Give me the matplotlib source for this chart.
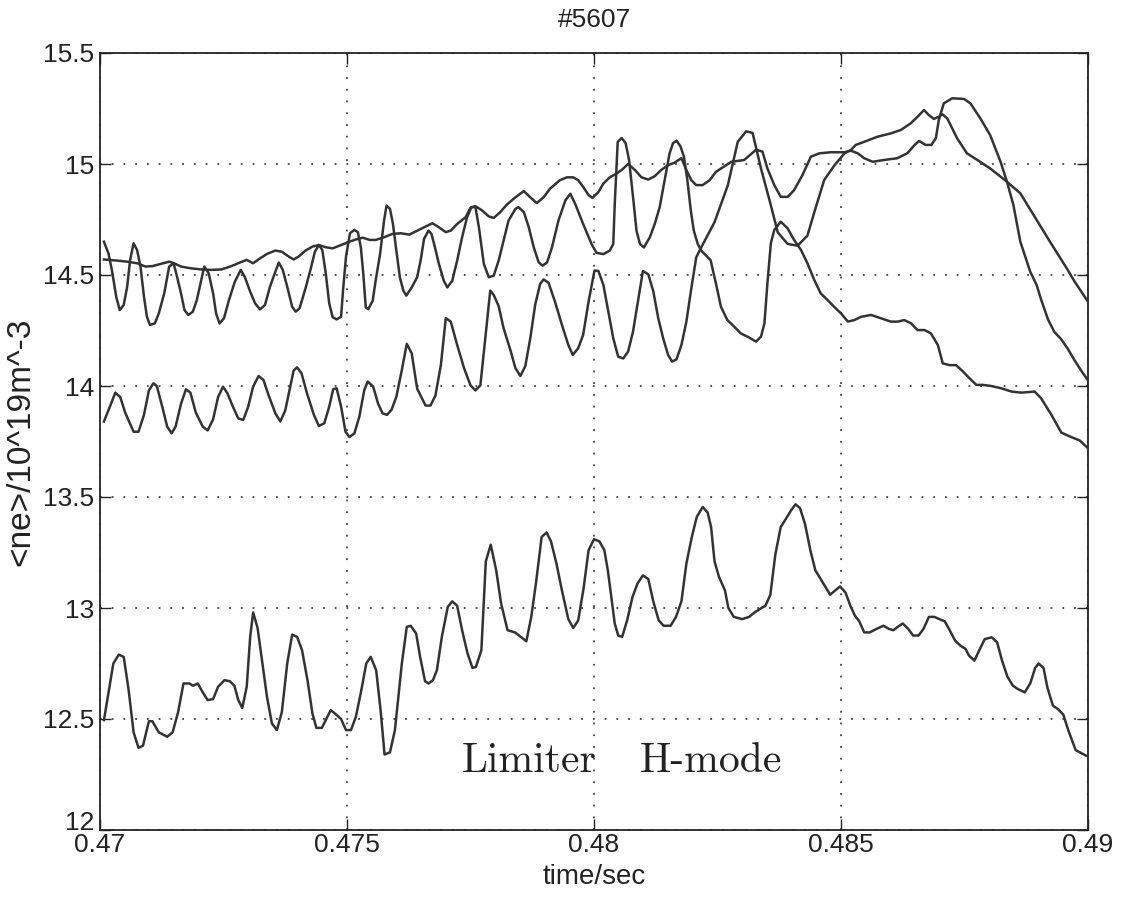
import matplotlib
matplotlib.use("Agg")
import matplotlib.pyplot as plt
from matplotlib import transforms

# ---------------------------------------------------------------
# Line-averaged density traces, shot #5607 (time in s, <ne> in 1e19 m^-3)
# ---------------------------------------------------------------

# smooth upper trace
t_top = [0.47008, 0.47034, 0.47055, 0.47075, 0.47092, 0.47106, 0.47123, 0.47140, 0.47150, 0.47164,
         0.47184, 0.47205, 0.47225, 0.47246, 0.47266, 0.47283, 0.47297, 0.47310, 0.47324, 0.47338,
         0.47355, 0.47368, 0.47382, 0.47392, 0.47402, 0.47416, 0.47430, 0.47443, 0.47457, 0.47471,
         0.47488, 0.47505, 0.47518, 0.47532, 0.47546, 0.47558, 0.47575, 0.47592, 0.47609, 0.47626,
         0.47640, 0.47656, 0.47673, 0.47686, 0.47700, 0.47710, 0.47723, 0.47740, 0.47750, 0.47760,
         0.47774, 0.47787, 0.47797, 0.47810, 0.47824, 0.47841, 0.47858, 0.47871, 0.47884, 0.47898,
         0.47911, 0.47931, 0.47945, 0.47958, 0.47968, 0.47978, 0.47989, 0.47997, 0.48009, 0.48019,
         0.48032, 0.48046, 0.48056, 0.48069, 0.48083, 0.48096, 0.48110, 0.48123, 0.48136, 0.48150,
         0.48163, 0.48177, 0.48187, 0.48197, 0.48207, 0.48220, 0.48234, 0.48247, 0.48278, 0.48304,
         0.48328, 0.48341, 0.48351, 0.48365, 0.48378, 0.48392, 0.48405, 0.48422, 0.48439, 0.48456,
         0.48480, 0.48507, 0.48520, 0.48534, 0.48547, 0.48564, 0.48587, 0.48614, 0.48634, 0.48648,
         0.48658, 0.48671, 0.48683, 0.48692, 0.48698, 0.48708, 0.48725, 0.48749, 0.48762, 0.48782,
         0.48802, 0.48823, 0.48836, 0.48849, 0.48863, 0.48883, 0.48896, 0.48905, 0.48919, 0.48932,
         0.48946, 0.48959, 0.48973, 0.48986, 0.49000]
ne_top = [14.570, 14.565, 14.560, 14.553, 14.538, 14.540, 14.550, 14.560, 14.553, 14.538,
          14.530, 14.525, 14.523, 14.525, 14.540, 14.556, 14.568, 14.553, 14.575, 14.595,
          14.610, 14.605, 14.583, 14.570, 14.583, 14.610, 14.628, 14.635, 14.625, 14.620,
          14.635, 14.650, 14.660, 14.668, 14.658, 14.658, 14.670, 14.685, 14.688, 14.682,
          14.697, 14.715, 14.733, 14.715, 14.693, 14.700, 14.730, 14.760, 14.803, 14.810,
          14.790, 14.764, 14.757, 14.783, 14.818, 14.850, 14.878, 14.850, 14.824, 14.850,
          14.889, 14.927, 14.940, 14.940, 14.927, 14.897, 14.860, 14.847, 14.874, 14.912,
          14.940, 14.958, 14.973, 15.000, 14.973, 14.940, 14.930, 14.945, 14.973, 14.995,
          15.006, 15.026, 14.973, 14.927, 14.905, 14.905, 14.927, 14.965, 15.010, 15.018,
          15.064, 15.056, 14.980, 14.905, 14.852, 14.852, 14.882, 14.950, 15.033, 15.048,
          15.053, 15.053, 15.060, 15.048, 15.026, 15.010, 15.018, 15.026, 15.048, 15.083,
          15.104, 15.086, 15.086, 15.116, 15.198, 15.273, 15.296, 15.293, 15.273, 15.206,
          15.130, 15.010, 14.920, 14.815, 14.650, 14.515, 14.455, 14.390, 14.300, 14.243,
          14.210, 14.168, 14.115, 14.070, 14.025]

# upper oscillating trace
t_osc1 = [0.47008, 0.47017, 0.47024, 0.47033, 0.47040, 0.47048, 0.47055, 0.47061, 0.47068, 0.47075,
          0.47082, 0.47089, 0.47095, 0.47101, 0.47111, 0.47119, 0.47130, 0.47140, 0.47149, 0.47156,
          0.47164, 0.47171, 0.47179, 0.47188, 0.47196, 0.47205, 0.47211, 0.47220, 0.47229, 0.47235,
          0.47242, 0.47251, 0.47261, 0.47273, 0.47285, 0.47293, 0.47304, 0.47314, 0.47324, 0.47334,
          0.47344, 0.47355, 0.47362, 0.47370, 0.47379, 0.47389, 0.47396, 0.47404, 0.47416, 0.47426,
          0.47435, 0.47443, 0.47450, 0.47457, 0.47464, 0.47471, 0.47479, 0.47488, 0.47492, 0.47498,
          0.47506, 0.47515, 0.47522, 0.47528, 0.47533, 0.47538, 0.47543, 0.47552, 0.47558, 0.47567,
          0.47575, 0.47580, 0.47587, 0.47593, 0.47599, 0.47607, 0.47614, 0.47620, 0.47631, 0.47642,
          0.47649, 0.47656, 0.47665, 0.47671, 0.47678, 0.47686, 0.47696, 0.47703, 0.47713, 0.47723,
          0.47733, 0.47743, 0.47752, 0.47760, 0.47767, 0.47777, 0.47787, 0.47797, 0.47807, 0.47817,
          0.47827, 0.47841, 0.47847, 0.47858, 0.47868, 0.47878, 0.47888, 0.47896, 0.47905, 0.47915,
          0.47928, 0.47942, 0.47952, 0.47962, 0.47978, 0.47995, 0.48005, 0.48019, 0.48032, 0.48039,
          0.48042, 0.48048, 0.48056, 0.48064, 0.48071, 0.48079, 0.48086, 0.48093, 0.48101, 0.48113,
          0.48123, 0.48133, 0.48143, 0.48153, 0.48160, 0.48167, 0.48175, 0.48182, 0.48189, 0.48196,
          0.48202, 0.48210, 0.48217, 0.48236, 0.48247, 0.48257, 0.48270, 0.48284, 0.48297, 0.48311,
          0.48328, 0.48338, 0.48345, 0.48351, 0.48358, 0.48365, 0.48378, 0.48392, 0.48405, 0.48419,
          0.48432, 0.48446, 0.48459, 0.48473, 0.48486, 0.48500, 0.48514, 0.48527, 0.48541, 0.48561,
          0.48581, 0.48601, 0.48615, 0.48628, 0.48642, 0.48655, 0.48669, 0.48682, 0.48696, 0.48706,
          0.48720, 0.48733, 0.48747, 0.48760, 0.48774, 0.48787, 0.48804, 0.48824, 0.48845, 0.48865,
          0.48892, 0.48905, 0.48926, 0.48946, 0.48966, 0.48983, 0.49000]
ne_osc1 = [14.650, 14.598, 14.523, 14.400, 14.342, 14.365, 14.447, 14.568, 14.643, 14.613,
           14.538, 14.402, 14.312, 14.275, 14.282, 14.327, 14.417, 14.538, 14.553, 14.492,
           14.417, 14.342, 14.320, 14.335, 14.387, 14.477, 14.538, 14.508, 14.417, 14.327,
           14.282, 14.305, 14.387, 14.470, 14.523, 14.492, 14.425, 14.372, 14.345, 14.365,
           14.447, 14.515, 14.556, 14.523, 14.447, 14.357, 14.335, 14.350, 14.440, 14.523,
           14.605, 14.635, 14.613, 14.508, 14.372, 14.310, 14.300, 14.312, 14.432, 14.583,
           14.688, 14.703, 14.693, 14.625, 14.505, 14.354, 14.346, 14.384, 14.475, 14.595,
           14.745, 14.813, 14.798, 14.730, 14.625, 14.490, 14.430, 14.407, 14.444, 14.490,
           14.565, 14.663, 14.700, 14.685, 14.625, 14.550, 14.474, 14.444, 14.474, 14.565,
           14.670, 14.760, 14.806, 14.806, 14.715, 14.550, 14.490, 14.497, 14.565, 14.655,
           14.745, 14.798, 14.806, 14.783, 14.715, 14.625, 14.557, 14.542, 14.557, 14.625,
           14.745, 14.836, 14.866, 14.820, 14.730, 14.640, 14.600, 14.594, 14.610, 14.640,
           14.820, 15.100, 15.117, 15.094, 15.018, 14.852, 14.700, 14.640, 14.624, 14.670,
           14.730, 14.806, 14.927, 15.048, 15.094, 15.105, 15.080, 15.033, 14.927, 14.790,
           14.700, 14.640, 14.610, 14.567, 14.460, 14.357, 14.297, 14.267, 14.237, 14.222,
           14.200, 14.222, 14.282, 14.462, 14.643, 14.703, 14.740, 14.710, 14.658, 14.613,
           14.553, 14.477, 14.417, 14.387, 14.357, 14.327, 14.290, 14.297, 14.312, 14.320,
           14.305, 14.290, 14.290, 14.297, 14.282, 14.252, 14.252, 14.237, 14.185, 14.102,
           14.094, 14.094, 14.065, 14.035, 14.005, 14.005, 14.000, 13.990, 13.975, 13.970,
           13.975, 13.945, 13.870, 13.790, 13.770, 13.755, 13.720]

# middle oscillating trace
t_osc2 = [0.47008, 0.47020, 0.47031, 0.47041, 0.47051, 0.47061, 0.47068, 0.47078, 0.47089, 0.47099,
          0.47108, 0.47115, 0.47126, 0.47136, 0.47145, 0.47153, 0.47164, 0.47174, 0.47183, 0.47194,
          0.47208, 0.47218, 0.47229, 0.47239, 0.47249, 0.47258, 0.47269, 0.47280, 0.47290, 0.47300,
          0.47310, 0.47321, 0.47331, 0.47341, 0.47355, 0.47365, 0.47375, 0.47385, 0.47392, 0.47399,
          0.47408, 0.47419, 0.47433, 0.47443, 0.47454, 0.47464, 0.47472, 0.47479, 0.47488, 0.47497,
          0.47505, 0.47515, 0.47525, 0.47535, 0.47542, 0.47553, 0.47563, 0.47572, 0.47581, 0.47590,
          0.47600, 0.47611, 0.47621, 0.47631, 0.47642, 0.47659, 0.47669, 0.47679, 0.47690, 0.47700,
          0.47710, 0.47723, 0.47737, 0.47750, 0.47760, 0.47770, 0.47780, 0.47790, 0.47797, 0.47807,
          0.47817, 0.47831, 0.47841, 0.47851, 0.47861, 0.47871, 0.47881, 0.47891, 0.47898, 0.47908,
          0.47921, 0.47935, 0.47948, 0.47957, 0.47968, 0.47978, 0.47989, 0.48001, 0.48009, 0.48019,
          0.48029, 0.48039, 0.48049, 0.48059, 0.48069, 0.48079, 0.48089, 0.48099, 0.48110, 0.48120,
          0.48130, 0.48140, 0.48150, 0.48158, 0.48167, 0.48177, 0.48187, 0.48197, 0.48207, 0.48217,
          0.48244, 0.48271, 0.48291, 0.48308, 0.48321, 0.48338, 0.48358, 0.48372, 0.48392, 0.48412,
          0.48432, 0.48446, 0.48466, 0.48487, 0.48507, 0.48520, 0.48530, 0.48547, 0.48574, 0.48601,
          0.48621, 0.48641, 0.48655, 0.48668, 0.48678, 0.48688, 0.48698, 0.48705, 0.48715, 0.48735,
          0.48755, 0.48776, 0.48802, 0.48823, 0.48836, 0.48863, 0.48890, 0.48923, 0.48957, 0.48973,
          0.49000]
ne_osc2 = [13.840, 13.907, 13.970, 13.950, 13.880, 13.830, 13.794, 13.794, 13.870, 13.980,
           14.012, 14.000, 13.907, 13.817, 13.787, 13.817, 13.920, 13.985, 13.970, 13.880,
           13.817, 13.800, 13.850, 13.950, 13.997, 13.967, 13.907, 13.854, 13.847, 13.907,
           13.997, 14.045, 14.027, 13.960, 13.877, 13.840, 13.890, 13.997, 14.070, 14.084,
           14.057, 13.967, 13.870, 13.820, 13.832, 13.907, 13.985, 13.990, 13.907, 13.794,
           13.770, 13.787, 13.862, 13.982, 14.020, 13.997, 13.920, 13.877, 13.870, 13.892,
           13.952, 14.072, 14.190, 14.147, 13.988, 13.912, 13.912, 13.957, 14.094, 14.306,
           14.290, 14.185, 14.080, 14.003, 13.980, 14.003, 14.215, 14.430, 14.410, 14.360,
           14.260, 14.160, 14.080, 14.045, 14.090, 14.215, 14.367, 14.460, 14.480, 14.465,
           14.380, 14.276, 14.185, 14.140, 14.170, 14.230, 14.380, 14.520, 14.518, 14.455,
           14.336, 14.215, 14.132, 14.124, 14.155, 14.245, 14.380, 14.518, 14.503, 14.427,
           14.306, 14.215, 14.140, 14.110, 14.120, 14.185, 14.290, 14.440, 14.580, 14.624,
           14.738, 14.905, 15.100, 15.147, 15.140, 14.980, 14.814, 14.692, 14.640, 14.632,
           14.677, 14.783, 14.928, 14.995, 15.048, 15.063, 15.086, 15.100, 15.123, 15.138,
           15.153, 15.183, 15.213, 15.243, 15.220, 15.203, 15.213, 15.224, 15.206, 15.116,
           15.048, 15.018, 14.980, 14.943, 14.920, 14.868, 14.770, 14.650, 14.530, 14.470,
           14.380]

# lower trace
t_low = [0.47008, 0.47027, 0.47038, 0.47048, 0.47058, 0.47068, 0.47078, 0.47087, 0.47099, 0.47106,
         0.47119, 0.47136, 0.47147, 0.47158, 0.47169, 0.47181, 0.47188, 0.47198, 0.47208, 0.47218,
         0.47229, 0.47239, 0.47252, 0.47263, 0.47272, 0.47280, 0.47288, 0.47297, 0.47304, 0.47310,
         0.47319, 0.47327, 0.47338, 0.47348, 0.47358, 0.47368, 0.47379, 0.47389, 0.47399, 0.47409,
         0.47420, 0.47430, 0.47438, 0.47449, 0.47457, 0.47467, 0.47478, 0.47488, 0.47498, 0.47508,
         0.47518, 0.47529, 0.47539, 0.47548, 0.47559, 0.47568, 0.47576, 0.47587, 0.47597, 0.47604,
         0.47611, 0.47621, 0.47629, 0.47640, 0.47648, 0.47658, 0.47665, 0.47674, 0.47682, 0.47692,
         0.47704, 0.47713, 0.47723, 0.47733, 0.47744, 0.47754, 0.47761, 0.47772, 0.47781, 0.47791,
         0.47802, 0.47812, 0.47825, 0.47840, 0.47849, 0.47863, 0.47873, 0.47883, 0.47894, 0.47904,
         0.47913, 0.47924, 0.47935, 0.47948, 0.47958, 0.47968, 0.47979, 0.47989, 0.48000, 0.48011,
         0.48021, 0.48028, 0.48035, 0.48042, 0.48049, 0.48057, 0.48067, 0.48078, 0.48088, 0.48099,
         0.48110, 0.48120, 0.48131, 0.48141, 0.48155, 0.48166, 0.48177, 0.48187, 0.48198, 0.48208,
         0.48220, 0.48230, 0.48237, 0.48244, 0.48253, 0.48265, 0.48272, 0.48283, 0.48300, 0.48314,
         0.48325, 0.48339, 0.48347, 0.48357, 0.48367, 0.48378, 0.48388, 0.48399, 0.48408, 0.48417,
         0.48427, 0.48438, 0.48448, 0.48459, 0.48470, 0.48478, 0.48489, 0.48498, 0.48509, 0.48519,
         0.48528, 0.48537, 0.48547, 0.48558, 0.48572, 0.48586, 0.48597, 0.48606, 0.48614, 0.48625,
         0.48636, 0.48646, 0.48657, 0.48667, 0.48678, 0.48689, 0.48699, 0.48710, 0.48720, 0.48731,
         0.48742, 0.48752, 0.48759, 0.48770, 0.48780, 0.48791, 0.48805, 0.48816, 0.48826, 0.48837,
         0.48848, 0.48858, 0.48872, 0.48883, 0.48893, 0.48900, 0.48910, 0.48918, 0.48929, 0.48939,
         0.48950, 0.48960, 0.48975, 0.48996]
ne_low = [12.495, 12.750, 12.790, 12.780, 12.630, 12.440, 12.370, 12.380, 12.490, 12.490,
          12.440, 12.420, 12.440, 12.530, 12.660, 12.660, 12.650, 12.660, 12.620, 12.585,
          12.590, 12.645, 12.675, 12.670, 12.650, 12.585, 12.550, 12.645, 12.870, 12.980,
          12.910, 12.780, 12.600, 12.480, 12.450, 12.530, 12.750, 12.880, 12.870, 12.810,
          12.675, 12.525, 12.460, 12.460, 12.495, 12.540, 12.520, 12.500, 12.450, 12.450,
          12.510, 12.630, 12.750, 12.780, 12.720, 12.540, 12.340, 12.350, 12.450, 12.600,
          12.750, 12.915, 12.920, 12.885, 12.780, 12.670, 12.660, 12.675, 12.720, 12.870,
          13.005, 13.030, 13.010, 12.900, 12.795, 12.730, 12.735, 12.810, 13.210, 13.285,
          13.170, 13.020, 12.900, 12.890, 12.875, 12.850, 12.960, 13.120, 13.320, 13.340,
          13.300, 13.200, 13.080, 12.950, 12.910, 12.944, 13.090, 13.260, 13.310, 13.300,
          13.260, 13.170, 13.050, 12.930, 12.876, 12.870, 12.944, 13.050, 13.110, 13.147,
          13.130, 13.030, 12.944, 12.920, 12.920, 12.960, 13.030, 13.200, 13.320, 13.410,
          13.455, 13.430, 13.365, 13.210, 13.140, 13.080, 13.000, 12.960, 12.950, 12.960,
          12.980, 13.000, 13.010, 13.060, 13.240, 13.365, 13.400, 13.440, 13.467, 13.450,
          13.380, 13.260, 13.170, 13.130, 13.090, 13.060, 13.080, 13.097, 13.070, 13.010,
          12.966, 12.940, 12.890, 12.890, 12.906, 12.920, 12.906, 12.900, 12.914, 12.930,
          12.906, 12.876, 12.876, 12.906, 12.960, 12.960, 12.950, 12.940, 12.900, 12.853,
          12.830, 12.816, 12.786, 12.763, 12.810, 12.860, 12.868, 12.846, 12.763, 12.690,
          12.650, 12.635, 12.620, 12.660, 12.730, 12.750, 12.730, 12.640, 12.560, 12.545,
          12.520, 12.450, 12.360, 12.335]

x_ticks = [0.47, 0.475, 0.48, 0.485, 0.49]
x_tick_labels = ["0.47", "0.475", "0.48", "0.485", "0.49"]
y_ticks = [12, 12.5, 13, 13.5, 14, 14.5, 15, 15.5]
y_tick_labels = ["12", "12.5", "13", "13.5", "14", "14.5", "15", "15.5"]

# ---------------------------------------------------------------
label_font = "Liberation Sans"
ink = "#222222"

W, H = 1121, 899
fig = plt.figure(figsize=(W / 100, H / 100), dpi=100)
ax = fig.add_axes([100 / W, (H - 830) / H, 988 / W, 777 / H])

trace_color = "#333333"
for t, ne in [(t_top, ne_top), (t_osc1, ne_osc1), (t_osc2, ne_osc2), (t_low, ne_low)]:
    ax.plot(t, ne, color=trace_color, lw=1.8, solid_joinstyle="round", zorder=3)

ax.set_xlim(0.47, 0.49)
ax.set_ylim(12, 15.5)
ax.set_xticks(x_ticks)
ax.set_xticklabels(x_tick_labels)
ax.set_yticks(y_ticks)
ax.set_yticklabels(y_tick_labels)

ax.tick_params(direction="in", top=True, right=True, length=8, width=1.0,
               labelsize=19, colors=ink)
ax.tick_params(axis="x", pad=2)
ax.tick_params(axis="y", pad=4)
for lab in ax.get_xticklabels() + ax.get_yticklabels():
    lab.set_fontfamily(label_font)

# the lowest y label sits just above the x labels
low_lab = ax.get_yticklabels()[0]
low_lab.set_transform(low_lab.get_transform() +
                      transforms.ScaledTranslation(0, 7 / 72, fig.dpi_scale_trans))

ax.grid(True, linestyle=(0, (1, 5.5)), color="#444444", lw=1.3)
for sp in ax.spines.values():
    sp.set_linewidth(1.3)
    sp.set_color(ink)

ax.set_xlabel("time/sec", fontsize=20, family=label_font, color=ink)
ax.xaxis.set_label_coords(0.5, -0.044)
ax.set_ylabel("<ne>/10^19m^-3", fontsize=24, family=label_font, color=ink)
ax.yaxis.set_label_coords(-0.064, 0.5)
ax.set_title("#5607", fontsize=19, family=label_font, color=ink, y=1.034, pad=0)

ax.text(0.47733, 12.26, "Limiter", family="cmr10", fontsize=30, color=ink,
        ha="left", va="baseline")
ax.text(0.48093, 12.26, "H-mode", family="cmr10", fontsize=30, color=ink,
        ha="left", va="baseline")

fig.savefig("out.png", dpi=100)
